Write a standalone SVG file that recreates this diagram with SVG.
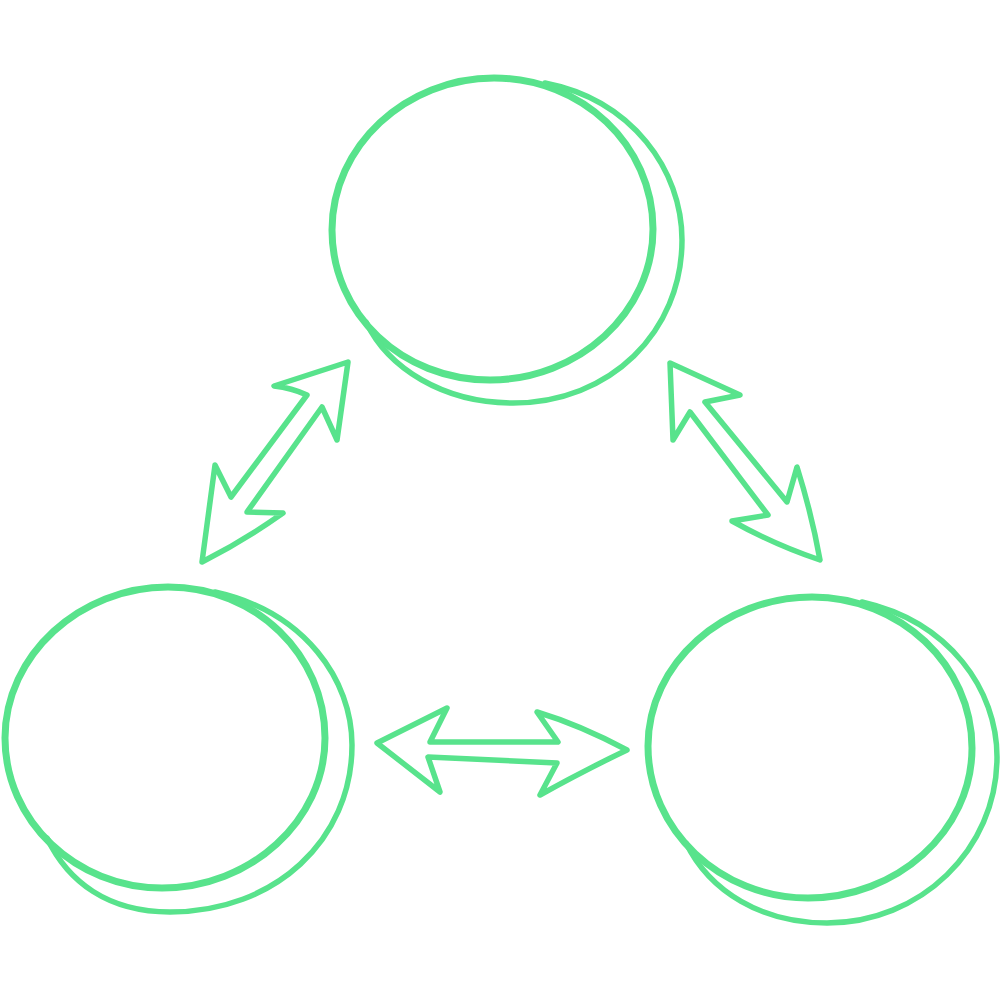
<svg xmlns="http://www.w3.org/2000/svg" width="1000" height="1000" viewBox="0 0 1000 1000">
<style>
.ln{fill:none;stroke:#58E38C;stroke-linecap:round;stroke-linejoin:round}
.inner{stroke-width:7}
.outer{stroke-width:5.5}
.arr{stroke-width:5.5}
</style>
<rect width="1000" height="1000" fill="#ffffff"/>
<g id="node-top">
<path class="ln inner" d="M 490,380 C 402,380 332,314 332,230 C 332,146 406,78 494,78 C 582,78 653,145 653,229 C 653,313 578,380 490,380 Z"/>
<path class="ln outer" d="M 545,83 C 632,100 682,170 682,240 C 682,332 610,403 513,403 C 443,403 388,368 366,322"/>
</g>
<g id="node-left">
<path class="ln inner" d="M 162,888 C 76,888 5,821 5,738 C 5,655 80,587 168,587 C 256,587 325,655 325,738 C 325,821 250,888 162,888 Z"/>
<path class="ln outer" d="M 215,592 C 305,612 352,680 352,745 C 352,840 275,912 170,912 C 108,912 68,882 47,838"/>
</g>
<g id="node-right">
<path class="ln inner" d="M 808,898 C 720,898 648,830 648,746 C 648,663 724,597 812,597 C 900,597 972,665 972,748 C 972,832 896,898 808,898 Z"/>
<path class="ln outer" d="M 862,602 C 950,622 997,690 997,757 C 997,850 920,923 827,923 C 762,923 710,892 686,843"/>
</g>
<g id="connectors">
<path class="ln arr" d="M 348,362 L 274,386 Q 292,388 307,395 L 231,497 L 215,465 L 202,562 Q 245,540 283,513 L 247,512 L 322,407 L 337,440 Z"/>
<path class="ln arr" d="M 670,363 L 673,440 L 690,412 L 768,515 L 732,521 Q 775,545 820,560 Q 812,515 797,467 L 787,502 L 705,402 L 740,395 Z"/>
<path class="ln arr" d="M 377,743 L 440,792 L 428,757 L 557,763 L 540,795 Q 585,770 627,750 Q 580,725 537,712 L 558,742 L 430,742 L 447,708 Z"/>
</g>
</svg>
